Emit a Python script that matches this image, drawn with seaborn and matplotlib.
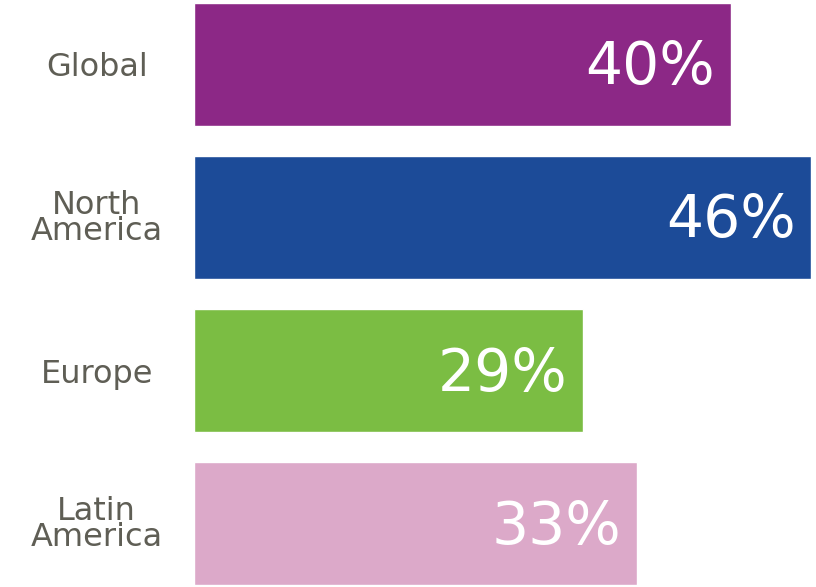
import matplotlib
matplotlib.use("Agg")
import matplotlib.pyplot as plt
import seaborn as sns
import pandas as pd

regions = ["Global", "North America", "Europe", "Latin America"]
region_labels = ["Global", "North\nAmerica", "Europe", "Latin\nAmerica"]
values = [40, 46, 29, 33]
colors = ["#8C2886", "#1C4B98", "#7BBD43", "#DCA9C9"]

sns.set_theme(style="white")
plt.rcParams['font.family'] = ['DejaVu Sans']

df = pd.DataFrame({"region": regions, "value": values})

fig = plt.figure(figsize=(8.16, 5.87), dpi=100)
ax = fig.add_axes([194/816, 1-585/587, (811-194)/816, 582/587])
sns.barplot(data=df, y="region", x="value", hue="region", palette=colors,
            orient="h", width=0.8, legend=False, ax=ax, saturation=1)
ax.set_xlim(0, 46)
ax.set_ylim(3.4, -0.4)
sns.despine(ax=ax, left=True, bottom=True)
ax.set_xticks([])
ax.set_xlabel("")
ax.set_ylabel("")
ax.set_yticks(range(len(regions)), region_labels)
ax.tick_params(axis="y", length=0, pad=70)
for lab in ax.get_yticklabels():
    lab.set_horizontalalignment("center")
    lab.set_multialignment("center")
    lab.set_fontsize(23)
    lab.set_color("#5F5E55")
    lab.set_linespacing(0.8)

for i, v in enumerate(values):
    ax.annotate(f"{v}%", xy=(v - 1.15, i), xytext=(0, -2.5),
                textcoords="offset points", ha="right", va="center",
                color="white", fontsize=42)

fig.savefig("out.png", dpi=100)
